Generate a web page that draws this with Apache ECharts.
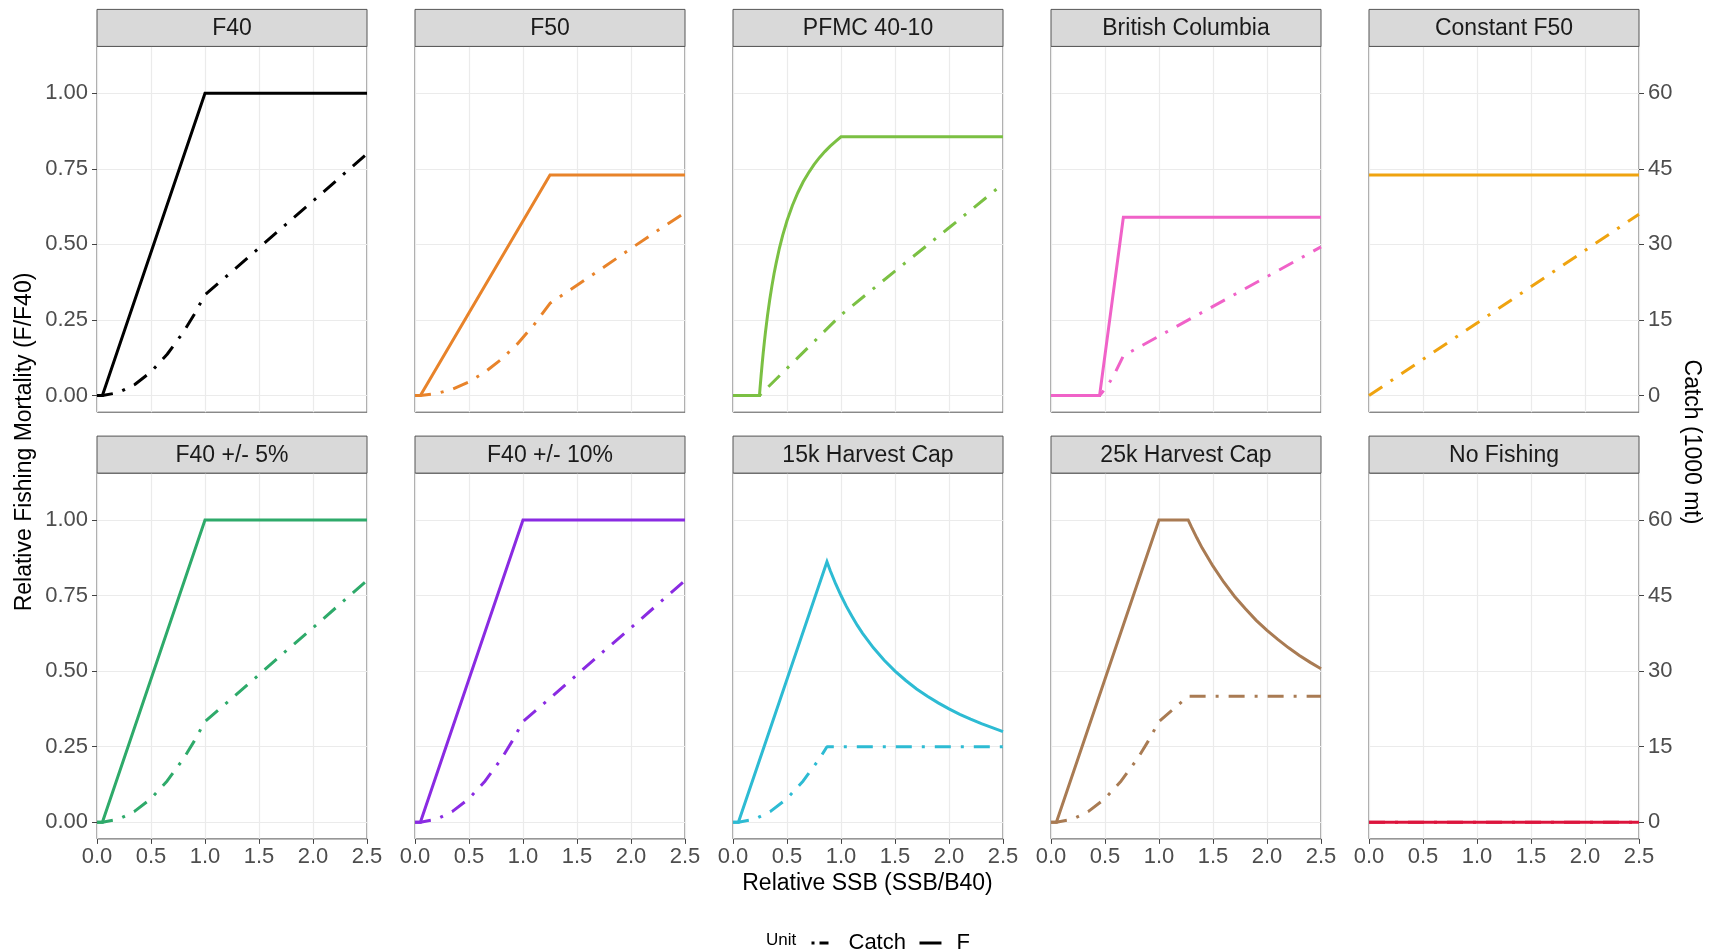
<!DOCTYPE html>
<html><head><meta charset="utf-8">
<script src="https://cdn.jsdelivr.net/npm/echarts@6/dist/echarts.min.js"></script>
<style>html,body{margin:0;padding:0;background:#fff}#c{width:1713px;height:951px}</style>
</head><body><div id="c"></div>
<script>
// ---------- DATA ----------
const panelTitles = ['F40','F50','PFMC 40-10','British Columbia','Constant F50',
  'F40 +/- 5%','F40 +/- 10%','15k Harvest Cap','25k Harvest Cap','No Fishing'];
const panelColors = ['#000000','#E8832A','#7BC043','#F062C8','#EFA30F',
  '#2EAA6A','#8A2BE2','#2DBBD3','#A97B53','#DC143C'];
const xTickLabels = [0, 0.5, 1.0, 1.5, 2.0, 2.5];
const fTicks = [0, 0.25, 0.5, 0.75, 1.0];
const catchTicks = [0, 15, 30, 45, 60];
const legendNames = ['Catch', 'F'];

// F40
const f40_x  = [0, 0.05, 1.0, 2.5];
const f40_F  = [0, 0, 1.0, 1.0];
const f40_cx = [0, 0.05, 0.2, 0.35, 0.5, 0.65, 0.8, 0.9, 1.0, 1.25, 1.5, 1.75, 2.0, 2.25, 2.5];
const f40_C  = [0, 0, 0.6, 2.2, 4.7, 8.2, 12.6, 16.1, 20.0, 24.6, 29.3, 34.0, 38.6, 43.3, 48.0];
// F50
const f50_x  = [0, 0.05, 1.25, 2.5];
const f50_F  = [0, 0, 0.73, 0.73];
const f50_cx = [0, 0.05, 0.2, 0.35, 0.5, 0.65, 0.8, 0.95, 1.1, 1.25, 1.5, 1.75, 2.0, 2.25, 2.5];
const f50_C  = [0, 0, 0.4, 1.3, 2.7, 4.7, 7.2, 10.3, 14.0, 18.3, 21.9, 25.5, 29.2, 32.8, 36.3];
// PFMC 40-10
const pfmc_x  = [0, 0.245, 0.25, 0.26, 0.27, 0.28, 0.29, 0.30, 0.32, 0.34, 0.36, 0.38, 0.40, 0.43, 0.46,
  0.50, 0.55, 0.60, 0.65, 0.70, 0.75, 0.80, 0.85, 0.90, 0.95, 1.0, 2.5];
const pfmc_F  = [0, 0, 0.023, 0.065, 0.105, 0.142, 0.176, 0.208, 0.266, 0.317, 0.362, 0.403, 0.439, 0.488, 0.530,
  0.578, 0.629, 0.671, 0.707, 0.737, 0.764, 0.787, 0.807, 0.825, 0.841, 0.856, 0.856];
const pfmc_cx = [0, 0.245, 0.5, 0.75, 1.0, 1.5, 2.0, 2.5];
const pfmc_C  = [0, 0, 5.4, 10.7, 16.0, 24.7, 33.3, 42.0];
// British Columbia
const bc_x  = [0, 0.45, 0.67, 2.5];
const bc_F  = [0, 0, 0.59, 0.59];
const bc_cx = [0, 0.45, 0.5, 0.55, 0.6, 0.67, 1.0, 1.5, 2.0, 2.5];
const bc_C  = [0, 0, 1.3, 2.9, 4.8, 7.9, 11.8, 17.7, 23.6, 29.5];
// Constant F50
const cf50_x  = [0, 2.5];
const cf50_F  = [0.73, 0.73];
const cf50_cx = [0, 2.5];
const cf50_C  = [0, 36.0];
// F40 +/- 5%
const f40p5_x  = [0, 0.05, 1.0, 2.5];
const f40p5_F  = [0, 0, 1.0, 1.0];
const f40p5_cx = [0, 0.05, 0.2, 0.35, 0.5, 0.65, 0.8, 0.9, 1.0, 1.25, 1.5, 1.75, 2.0, 2.25, 2.5];
const f40p5_C  = [0, 0, 0.6, 2.2, 4.7, 8.2, 12.6, 16.1, 20.0, 24.6, 29.3, 34.0, 38.6, 43.3, 48.0];
// F40 +/- 10%
const f40p10_x  = [0, 0.05, 1.0, 2.5];
const f40p10_F  = [0, 0, 1.0, 1.0];
const f40p10_cx = [0, 0.05, 0.2, 0.35, 0.5, 0.65, 0.8, 0.9, 1.0, 1.25, 1.5, 1.75, 2.0, 2.25, 2.5];
const f40p10_C  = [0, 0, 0.6, 2.2, 4.7, 8.2, 12.6, 16.1, 20.0, 24.6, 29.3, 34.0, 38.6, 43.3, 48.0];
// 15k Harvest Cap
const cap15_x  = [0, 0.05, 0.87, 0.9, 0.95, 1.0, 1.05, 1.1, 1.15, 1.2, 1.3, 1.4, 1.5, 1.6, 1.7,
  1.8, 1.9, 2.0, 2.1, 2.2, 2.3, 2.4, 2.5];
const cap15_F  = [0, 0, 0.862, 0.833, 0.789, 0.75, 0.714, 0.682, 0.652, 0.625, 0.577, 0.536, 0.50, 0.469, 0.441,
  0.417, 0.395, 0.375, 0.357, 0.341, 0.326, 0.313, 0.30];
const cap15_cx = [0, 0.05, 0.2, 0.35, 0.5, 0.65, 0.8, 0.87, 2.5];
const cap15_C  = [0, 0, 0.6, 2.2, 4.7, 8.2, 12.6, 15.0, 15.0];
// 25k Harvest Cap
const cap25_x  = [0, 0.05, 1.0, 1.27, 1.3, 1.35, 1.4, 1.5, 1.6, 1.7, 1.8, 1.9, 2.0, 2.1, 2.2, 2.3, 2.4, 2.5];
const cap25_F  = [0, 0, 1.0, 1.0, 0.977, 0.941, 0.907, 0.847, 0.794, 0.747, 0.706, 0.668, 0.635, 0.605,
  0.577, 0.552, 0.529, 0.508];
const cap25_cx = [0, 0.05, 0.2, 0.35, 0.5, 0.65, 0.8, 0.9, 1.0, 1.27, 2.5];
const cap25_C  = [0, 0, 0.6, 2.2, 4.7, 8.2, 12.6, 16.1, 20.0, 25.0, 25.0];
// No Fishing
const nf_x  = [0, 2.5];
const nf_F  = [0, 0];
const nf_cx = [0, 2.5];
const nf_C  = [0, 0];

const panelData = [
  [f40_x, f40_F, f40_cx, f40_C],
  [f50_x, f50_F, f50_cx, f50_C],
  [pfmc_x, pfmc_F, pfmc_cx, pfmc_C],
  [bc_x, bc_F, bc_cx, bc_C],
  [cf50_x, cf50_F, cf50_cx, cf50_C],
  [f40p5_x, f40p5_F, f40p5_cx, f40p5_C],
  [f40p10_x, f40p10_F, f40p10_cx, f40p10_C],
  [cap15_x, cap15_F, cap15_cx, cap15_C],
  [cap25_x, cap25_F, cap25_cx, cap25_C],
  [nf_x, nf_F, nf_cx, nf_C]
];

// ---------- LAYOUT / STYLE ----------
const FONT = "'Liberation Sans', Arial, Helvetica, sans-serif";
const colLeft = [97, 415, 733, 1051, 1369];
const panelW = 270;
const rowTop = [46.4, 473.1];
const panelH = 365.8;
const stripH = 37;
const dotdash = [16, 10, 3, 10];
const LW = 3;
const TICKFS = 22;

function pairs(xs, ys) { return xs.map((x, i) => [x, ys[i]]); }

const grids = [], xAxes = [], yAxes = [], series = [], graphics = [];
for (let i = 0; i < 10; i++) {
  const row = Math.floor(i / 5), col = i % 5;
  grids.push({
    left: colLeft[col], top: rowTop[row], width: panelW, height: panelH,
    show: true, backgroundColor: '#ffffff', borderColor: '#555555', borderWidth: 1,
    containLabel: false
  });
  xAxes.push({
    gridIndex: i, type: 'value', min: 0, max: 2.5, interval: 0.5,
    axisLine: { show: false, onZero: false },
    axisTick: { show: row === 1, length: 5, lineStyle: { color: '#444' } },
    axisLabel: { show: row === 1, margin: 7, fontSize: TICKFS, color: '#4d4d4d', fontFamily: FONT,
      formatter: v => Number(v).toFixed(1) },
    splitLine: { show: true, lineStyle: { color: '#ebebeb', width: 1.2 } }
  });
  yAxes.push({
    gridIndex: i, type: 'value', position: 'left', min: -0.055, max: 1.155,
    axisLine: { show: false, onZero: false },
    axisTick: { show: col === 0, length: 5, customValues: fTicks, lineStyle: { color: '#444' } },
    axisLabel: { show: col === 0, customValues: fTicks, margin: 9, fontSize: TICKFS, color: '#4d4d4d',
      fontFamily: FONT, formatter: v => Number(v).toFixed(2) },
    splitLine: { show: true, lineStyle: { color: '#ebebeb', width: 1.2 } }
  });
  yAxes.push({
    gridIndex: i, type: 'value', position: 'right', min: -3.3, max: 69.3,
    axisLine: { show: false, onZero: false },
    axisTick: { show: col === 4, length: 5, customValues: catchTicks, lineStyle: { color: '#444' } },
    axisLabel: { show: col === 4, customValues: catchTicks, margin: 9, fontSize: TICKFS, color: '#4d4d4d',
      fontFamily: FONT },
    splitLine: { show: false }
  });
  const d = panelData[i];
  const color = panelColors[i];
  series.push({
    type: 'line', name: 'Catch_' + i, xAxisIndex: i, yAxisIndex: 2 * i + 1,
    data: pairs(d[2], d[3]), symbol: 'none', silent: true, z: 3, color: color,
    lineStyle: { color: color, width: LW, type: dotdash, cap: 'butt' }
  });
  series.push({
    type: 'line', name: 'F_' + i, xAxisIndex: i, yAxisIndex: 2 * i,
    data: pairs(d[0], d[1]), symbol: 'none', silent: true, z: 4, color: color,
    lineStyle: { color: color, width: LW, join: 'miter' }
  });
  // strip
  const sy = rowTop[row] - stripH;
  graphics.push({
    type: 'rect', shape: { x: colLeft[col], y: sy, width: panelW, height: stripH },
    style: { fill: '#d9d9d9', stroke: '#555555', lineWidth: 1 }, z: 10
  });
  graphics.push({
    type: 'text', x: colLeft[col] + panelW / 2, y: sy + stripH / 2 + 1,
    style: { text: panelTitles[i], fill: '#1a1a1a', font: '23px ' + FONT,
      align: 'center', verticalAlign: 'middle' }, z: 11
  });
}
// legend dummy series
series.push({ type: 'line', name: legendNames[0], xAxisIndex: 0, yAxisIndex: 0, data: [],
  symbol: 'none', color: '#000', itemStyle: { color: '#000' },
  lineStyle: { color: '#000', width: LW, type: dotdash } });
series.push({ type: 'line', name: legendNames[1], xAxisIndex: 0, yAxisIndex: 0, data: [],
  symbol: 'none', color: '#000', itemStyle: { color: '#000' },
  lineStyle: { color: '#000', width: LW } });

// axis titles
graphics.push({
  type: 'text', x: 25, y: 442, rotation: Math.PI / 2,
  style: { text: 'Relative Fishing Mortality (F/F40)', fill: '#000', font: '23px ' + FONT,
    align: 'center', verticalAlign: 'middle' }
});
graphics.push({
  type: 'text', x: 1691, y: 442, rotation: -Math.PI / 2,
  style: { text: 'Catch (1000 mt)', fill: '#000', font: '23px ' + FONT,
    align: 'center', verticalAlign: 'middle' }
});
graphics.push({
  type: 'text', x: 867.5, y: 884,
  style: { text: 'Relative SSB (SSB/B40)', fill: '#000', font: '23px ' + FONT,
    align: 'center', verticalAlign: 'middle' }
});
graphics.push({
  type: 'text', x: 766, y: 940,
  style: { text: 'Unit', fill: '#000', font: '17px ' + FONT,
    align: 'left', verticalAlign: 'middle' }
});

const chart = echarts.init(document.getElementById('c'), null, { renderer: 'canvas' });
chart.setOption({
  animation: false,
  backgroundColor: '#ffffff',
  grid: grids,
  xAxis: xAxes,
  yAxis: yAxes,
  series: series,
  graphic: graphics,
  legend: {
    left: 805, top: 927, itemWidth: 22, itemHeight: 14, itemGap: 12,
    selectedMode: false,
    textStyle: { fontSize: 22, color: '#000', fontFamily: FONT, padding: [0, 0, 0, 10] },
    data: [
      { name: legendNames[0], itemStyle: { color: '#000', opacity: 0, borderWidth: 0 },
        lineStyle: { type: [3, 5, 9, 30], width: LW, color: '#000' } },
      { name: legendNames[1], itemStyle: { color: '#000', opacity: 0, borderWidth: 0 },
        lineStyle: { type: 'solid', width: LW, color: '#000' } }
    ]
  }
});
</script></body></html>
